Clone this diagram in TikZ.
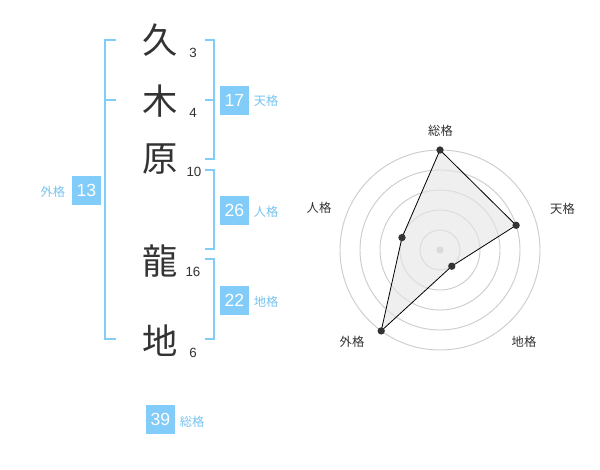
\documentclass[tikz,border=0pt]{standalone}
\usepackage{fontspec}
\setmainfont{Liberation Sans}
\newfontfamily\cjk{Noto Sans CJK JP}
\definecolor{sky}{RGB}{129,204,248}
\definecolor{skytext}{RGB}{120,196,240}
\definecolor{ink}{RGB}{51,51,51}
\definecolor{ring}{RGB}{205,205,205}
\begin{document}
\begin{tikzpicture}[x=0.75pt,y=-0.75pt,
  kanji/.style={inner sep=0pt,text=ink,font=\cjk\fontsize{26.5}{27}\selectfont},
  stroke/.style={inner sep=0pt,text=ink,font=\fontsize{10}{12}\selectfont},
  numbox/.style={fill=sky,text=white,inner sep=0pt,minimum width=21.5pt,minimum height=21.5pt,font=\fontsize{13.2}{15}\selectfont},
  skylabel/.style={inner sep=0pt,text=skytext,font=\cjk\fontsize{9.2}{11}\selectfont},
  bracket/.style={draw=sky,line width=1.5pt},
  ringline/.style={draw=ring,line width=0.7pt},
  axislabel/.style={inner sep=0pt,text=ink,font=\cjk\fontsize{9.2}{11}\selectfont},
  dot/.style={circle,fill=ink,inner sep=0pt,minimum size=5.5pt},
  area/.style={draw=black,line width=0.6pt,fill=black!10,fill opacity=0.6}]
\useasboundingbox (0,0) rectangle (600,470);
\fill[white] (0,0) rectangle (600,470);

% kanji column
\node[kanji] (k1) at (160.5,40) {久};
\node[kanji] (k2) at (160.5,101) {木};
\node[kanji] (k3) at (160.5,159) {原};
\node[kanji] (k4) at (160.5,261) {龍};
\node[kanji] (k5) at (160.5,341) {地};
\node[stroke] (n1) at (193,53) {3};
\node[stroke] (n2) at (193,113) {4};
\node[stroke] (n3) at (194,172) {10};
\node[stroke] (n4) at (193,272) {16};
\node[stroke] (n5) at (193,353) {6};

% bracket corners
\coordinate (La) at (116,40);  \coordinate (Lb) at (105,40);
\coordinate (Lc) at (105,339.5); \coordinate (Ld) at (116,339.5);
\coordinate (Lm1) at (105,100); \coordinate (Lm2) at (116,100);
\coordinate (Ta) at (205,40);  \coordinate (Tb) at (214.3,40);
\coordinate (Tc) at (214.3,159.3); \coordinate (Td) at (205,159.3);
\coordinate (Tm1) at (205,100); \coordinate (Tm2) at (214.3,100);
\coordinate (Ja) at (205,170); \coordinate (Jb) at (214.3,170);
\coordinate (Jc) at (214.3,249.5); \coordinate (Jd) at (205,249.5);
\coordinate (Ca) at (205,259.5); \coordinate (Cb) at (214.3,259.5);
\coordinate (Cc) at (214.3,339.5); \coordinate (Cd) at (205,339.5);

\draw[bracket] (La) -- (Lb) -- (Lc) -- (Ld);
\draw[bracket] (Lm1) -- (Lm2);
\draw[bracket] (Ta) -- (Tb) -- (Tc) -- (Td);
\draw[bracket] (Tm1) -- (Tm2);
\draw[bracket] (Ja) -- (Jb) -- (Jc) -- (Jd);
\draw[bracket] (Ca) -- (Cb) -- (Cc) -- (Cd);

% boxes and labels
\node[numbox] (b17) at (234.3,100.2) {17};
\node[skylabel,anchor=west] (t17) at (253.5,101) {天格};
\node[numbox] (b26) at (234.3,210.2) {26};
\node[skylabel,anchor=west] (t26) at (253.5,212) {人格};
\node[numbox] (b22) at (234.3,300.2) {22};
\node[skylabel,anchor=west] (t22) at (253.5,302) {地格};
\node[numbox] (b13) at (86.5,190.5) {13};
\node[skylabel,anchor=east] (t13) at (65.5,192) {外格};
\node[numbox] (b39) at (160.5,419.5) {39};
\node[skylabel,anchor=west] (t39) at (179.5,421.5) {総格};

% radar
\coordinate (O) at (440,250);
\foreach \r in {20,40,60,80,100} \draw[ringline] (O) circle[radius=\r*0.75pt];
\node[circle,fill=ring,inner sep=0pt,minimum size=5.5pt] (cdot) at (O) {};
\coordinate (p1) at (440,150);
\coordinate (p2) at (516.1,225.3);
\coordinate (p3) at (451.8,266.2);
\coordinate (p4) at (381.2,330.9);
\coordinate (p5) at (402,237.6);
\draw[area] (p1) -- (p2) -- (p3) -- (p4) -- (p5) -- cycle;
\foreach \p in {p1,p2,p3,p4,p5} \node[dot] at (\p) {};
\node[axislabel] (a1) at (440.5,130.5) {総格};
\node[axislabel] (a2) at (562.5,209) {天格};
\node[axislabel] (a3) at (524,342) {地格};
\node[axislabel] (a4) at (352,342) {外格};
\node[axislabel] (a5) at (319,208) {人格};
\end{tikzpicture}
\end{document}
